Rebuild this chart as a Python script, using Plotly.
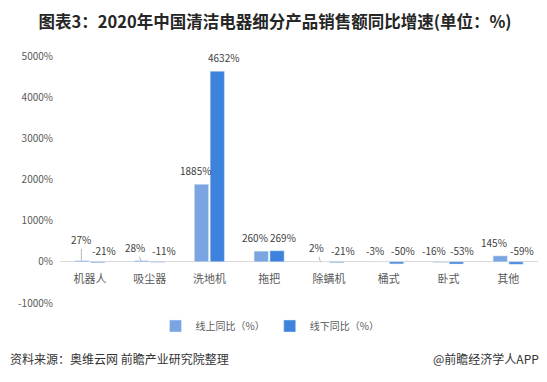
import plotly.graph_objects as go

categories = ["机器人", "吸尘器", "洗地机", "拖把", "除螨机", "桶式", "卧式", "其他"]
online = [27, 28, 1885, 260, 2, -3, -16, 145]
offline = [-21, -11, 4632, 269, -21, -50, -53, -59]
series_names = ["线上同比（%）", "线下同比（%）"]
y_min, y_max = -1000, 5000
y_ticks = [-1000, 0, 1000, 2000, 3000, 4000, 5000]
y_tick_labels = ["-1000%", "0%", "1000%", "2000%", "3000%", "4000%", "5000%"]

LIGHT = "#7AA5E2"
DARK = "#3D82DC"
FONT = "Noto Sans CJK SC"
W, H = 547, 382
L, R, T, B = 60, 9, 56, 79
PW, PH = W - L - R, H - T - B

fig = go.Figure()
fig.add_trace(go.Bar(x=categories, y=online, name=series_names[0], marker_color=LIGHT))
fig.add_trace(go.Bar(x=categories, y=offline, name=series_names[1], marker_color=DARK))

# data labels; tiny bars get a leader line (text offset in px: ax, ay)
leader = {("online", "机器人"): (0, -21), ("online", "吸尘器"): (-6, -13), ("online", "除螨机"): (-4, -14)}
ann = []
for key, vals, bar_shift, lab_shift in (("online", online, -8.5, -14), ("offline", offline, 8.5, 14)):
    for c, v in zip(categories, vals):
        txt = f"{v}%"
        lf = dict(size=10, color="#404040", family=FONT)
        if (key, c) in leader:
            ax, ay = leader[(key, c)]
            ann.append(dict(x=c, y=max(v, 0), xshift=bar_shift, text=txt, showarrow=True,
                            ax=ax, ay=ay, arrowhead=0, arrowwidth=0.8, arrowcolor="#A6A6A6",
                            standoff=0, startstandoff=0, font=lf))
        else:
            ann.append(dict(x=c, y=max(v, 0), xshift=lab_shift, yshift=4 if v >= 0 else 2,
                            text=txt, showarrow=False, yanchor="bottom", font=lf))

ann.append(dict(xref="paper", yref="paper", x=(8 - L) / PW, y=(T + PH - 358) / PH,
                text="资料来源：奥维云网 前瞻产业研究院整理", showarrow=False,
                xanchor="left", yanchor="middle", font=dict(size=12, color="#333333", family=FONT)))
ann.append(dict(xref="paper", yref="paper", x=(541 - L) / PW, y=(T + PH - 358) / PH,
                text="@前瞻经济学人APP", showarrow=False,
                xanchor="right", yanchor="middle", font=dict(size=12, color="#333333", family=FONT)))

fig.update_layout(
    width=W, height=H,
    margin=dict(l=L, r=R, t=T, b=B),
    paper_bgcolor="white", plot_bgcolor="white",
    title=dict(text="<b>图表3：2020年中国清洁电器细分产品销售额同比增速(单位：%)</b>",
               x=275 / W, xref="container", xanchor="center", y=1 - 22 / H, yanchor="middle",
               font=dict(size=16.5, color="#262626", family=FONT)),
    barmode="group", bargap=0.47, bargroupgap=0.1,
    showlegend=True,
    legend=dict(orientation="h", x=(270 - L) / PW, xanchor="center", y=(T + PH - 326) / PH,
                yanchor="middle", font=dict(size=10, color="#595959", family=FONT),
                itemwidth=30, traceorder="normal"),
    annotations=ann,
    font=dict(family=FONT),
)
fig.update_xaxes(showgrid=False, showline=False, ticks="", zeroline=False, automargin=False,
                 anchor="free", position=(0 - y_min) / (y_max - y_min), ticklabelstandoff=9,
                 tickfont=dict(size=11, color="#595959", family=FONT))
fig.update_yaxes(range=[y_min, y_max], tickvals=y_ticks, ticktext=y_tick_labels, automargin=False,
                 showgrid=False, showline=False, zeroline=True, zerolinecolor="#D9D9D9",
                 zerolinewidth=1, ticklabelstandoff=6,
                 tickfont=dict(size=10, color="#595959", family=FONT))

fig.write_html("out.html", config={"displayModeBar": False},
               post_script="document.body.style.margin='0';")
